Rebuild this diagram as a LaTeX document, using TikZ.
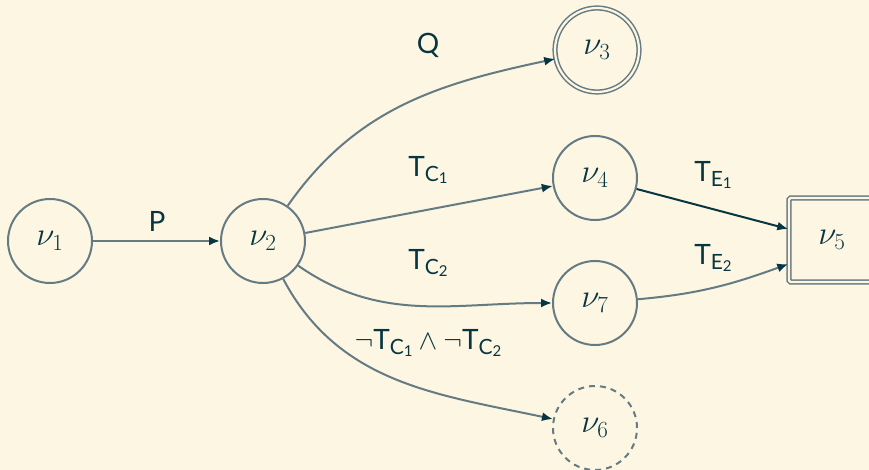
\documentclass[tikz,border=0pt]{standalone}
\usepackage{fix-cm}
\usepackage{fontspec}
\setmainfont{Lato}
\usetikzlibrary{arrows.meta}
\definecolor{bg}{HTML}{FDF6E3}
\definecolor{edgec}{HTML}{657B83}
\definecolor{dark}{HTML}{073642}
\newcommand{\sbs}[1]{\raisebox{-0.35ex}{\fontsize{21}{23}\selectfont #1}}
\newcommand{\ssbs}[1]{\raisebox{-0.25ex}{\fontsize{15}{17}\selectfont #1}}
\tikzset{
  stnode/.style={circle, draw=edgec, line width=2pt, minimum size=84pt, inner sep=0pt, text=dark, font=\fontsize{33}{38}\selectfont},
  acc/.style={stnode, double=bg, double distance=2.2pt, line width=1.5pt},
  dashnode/.style={stnode, dashed, dash pattern=on 6pt off 5pt},
  boxnode/.style={rectangle, draw=edgec, double=bg, double distance=2.2pt, line width=1.5pt, minimum width=86pt, minimum height=84pt, text=dark, font=\fontsize{33}{38}\selectfont, rounded corners=1.5pt},
  edge/.style={draw=edgec, line width=2pt, -{Latex[length=11pt,width=9pt,color=dark]}},
  darkedge/.style={edge, draw=dark},
  lbl/.style={text=dark, font=\fontsize{28}{32}\selectfont, inner sep=0pt},
}
\begin{document}
\begin{tikzpicture}[x=1pt,y=-1pt]
\fill[bg] (0,0) rectangle (869,470);
\useasboundingbox (0,0) rectangle (869,470);
\node[stnode] (v1) at (50,241) {$\nu_1$};
\node[stnode] (v2) at (263,241) {$\nu_2$};
\node[acc] (v3) at (597,50) {$\nu_3$};
\node[stnode] (v4) at (595,178) {$\nu_4$};
\node[stnode] (v7) at (595,303) {$\nu_7$};
\node[dashnode] (v6) at (595,428) {$\nu_6$};
\node[boxnode] (v5) at (832,240) {$\nu_5$};

\draw[edge] (v1) -- (v2);
\draw[edge] (v2) to[out=55,in=192] (v3);
\draw[edge] (v2) -- (v4);
\draw[edge] (v2) to[out=-35,in=180] (v7);
\draw[edge] (v2) to[out=-62,in=168] (v6);
\draw[darkedge] (v4) -- (v5.west |- 0,229);
\draw[edge] (v7) to[out=5,in=200] (v5.west |- 0,264);

\node[lbl] (lP) at (157,221) {P};
\node[lbl] (lQ) at (428,45) {Q};
\node[lbl] (lc1) at (428,170) {T\sbs{C\ssbs{1}}};
\node[lbl] (lc2) at (428,263) {T\sbs{C\ssbs{2}}};
\node[lbl] (lneg) at (428,343) {$\neg$T\sbs{C\ssbs{1}}\hspace{6pt}$\wedge$\hspace{6pt}$\neg$T\sbs{C\ssbs{2}}};
\node[lbl] (le1) at (713,175) {T\sbs{E\ssbs{1}}};
\node[lbl] (le2) at (713,258) {T\sbs{E\ssbs{2}}};
\end{tikzpicture}
\end{document}
